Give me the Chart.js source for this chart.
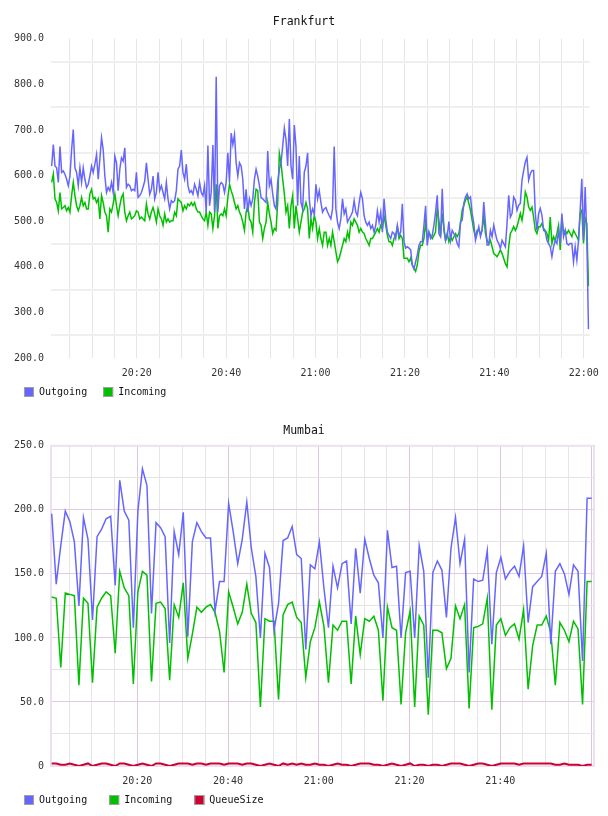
<!DOCTYPE html>
<html>
<head>
<meta charset="utf-8">
<script src="https://cdn.jsdelivr.net/npm/chart.js@4.4.1/dist/chart.umd.min.js"></script>
<style>
  html, body { margin: 0; padding: 0; background: #fff; }
  .box { position: absolute; left: 0; width: 608px; height: 408px; }
</style>
</head>
<body>
<div class="box" style="top:0"><canvas id="frankfurt"></canvas></div>
<div class="box" style="top:408px"><canvas id="mumbai"></canvas></div>
<script>
// x values are minutes after 20:00
var frankFirstMinute = 0.96;
var frankLastMinute = 121.05;

var frankOutgoing = [
  621, 668, 621, 617, 585, 664, 607, 610, 603, 592, 578, 599, 657, 701, 617, 607, 578, 617, 585, 617,
  592, 574, 581, 599, 621, 607, 625, 646, 592, 636, 683, 657, 599, 563, 574, 567, 585, 563, 643, 628,
  567, 614, 639, 632, 661, 574, 581, 578, 567, 570, 567, 607, 552, 556, 563, 575, 588, 628, 592, 559,
  570, 599, 549, 563, 607, 567, 578, 563, 549, 585, 549, 527, 545, 541, 545, 567, 614, 621, 656, 607,
  592, 625, 578, 563, 567, 559, 581, 570, 556, 585, 563, 556, 578, 520, 666, 534, 563, 667, 520, 817,
  520, 578, 585, 581, 563, 585, 650, 585, 693, 668, 690, 628, 599, 628, 621, 592, 527,
  570, 520, 549, 534, 549, 592, 614, 599, 578, 552, 549, 545, 541, 654, 578, 592, 560, 534, 527, 585,
  614, 628, 664, 704, 679, 621, 724, 621, 592, 711, 664, 534, 643, 541, 527, 607, 621, 650, 549, 512,
  527, 516, 581, 549, 567, 541, 520, 527, 530, 520, 512, 505, 527, 664, 527, 498, 484, 505, 549, 516,
  527, 498, 505, 512, 520, 545, 520, 512, 541, 563, 549, 512, 498, 491, 498, 484, 491, 476, 491, 523,
  498, 520, 476, 549, 505, 476, 469, 462, 476, 473, 462, 491, 469, 476, 538, 455, 441, 444, 441, 437,
  404, 395, 411, 426, 447, 455, 455, 491, 534, 447, 476, 462, 469, 491, 520,
  557, 473, 466, 571, 480, 458, 466, 499, 458, 480, 473, 466, 451, 444, 499, 502, 539, 553, 560, 549,
  553, 517, 495, 458, 473, 488, 466, 480, 542, 495, 448, 448, 480, 466, 491, 473, 458, 451, 440, 458,
  451, 444, 495, 557, 509, 517, 553, 546, 524, 535, 539, 590, 611, 630, 640, 590, 604, 611, 611, 517,
  480, 517, 528, 513, 480, 477, 458, 451, 444, 422, 444, 458, 451, 480, 451, 517, 466, 480, 451, 448,
  451, 451, 411, 444, 415, 458, 524, 593, 458, 575, 466, 263
];

var frankIncoming = [
  585, 603, 549, 541, 523, 563, 527, 530, 534, 523, 530, 520, 556, 585, 556, 534, 523, 534, 552, 534,
  541, 527, 527, 560, 570, 549, 552, 541, 549, 505, 556, 541, 520, 512, 476, 527, 520, 538, 560, 534,
  512, 534, 552, 560, 520, 501, 512, 520, 505, 508, 512, 523, 520, 505, 509, 505, 501, 538, 516, 505,
  520, 530, 516, 498, 527, 512, 505, 491, 516, 498, 505, 498, 501, 501, 520, 512, 549, 545, 541, 523,
  534, 527, 538, 534, 541, 534, 541, 527, 520, 520, 512, 505, 501, 520, 491, 520, 516, 484, 512, 581,
  484, 512, 516, 512, 527, 512, 552, 581, 567, 556, 541, 527, 534, 520, 512, 498, 480,
  520, 534, 505, 498, 476, 541, 570, 567, 498, 491, 462, 484, 498, 541, 516, 498, 473, 484, 480, 541,
  649, 628, 592, 560, 520, 534, 484, 534, 556, 484, 534, 505, 476, 498, 520, 527, 541, 527, 462, 505,
  484, 512, 498, 462, 484, 462, 447, 476, 476, 447, 462, 447, 476, 455, 433, 411, 419, 433, 447, 462,
  455, 476, 462, 498, 491, 505, 498, 491, 476, 484, 476, 473, 462, 455, 447, 462, 462, 469, 476, 484,
  476, 491, 484, 512, 491, 469, 455, 455, 447, 462, 469, 487, 462, 469, 462, 419, 419, 419, 411, 419,
  404, 397, 390, 404, 433, 447, 447, 462, 498, 462, 476, 469, 462, 469, 476,
  531, 502, 466, 517, 488, 458, 473, 455, 466, 458, 466, 473, 466, 473, 495, 524, 535, 546, 553, 539,
  524, 502, 480, 466, 480, 480, 473, 480, 513, 473, 458, 451, 458, 444, 429, 426, 422, 429, 437, 429,
  418, 407, 400, 444, 473, 480, 488, 480, 488, 502, 517, 502, 524, 564, 553, 531, 524, 531, 509, 480,
  473, 488, 488, 495, 484, 480, 473, 458, 509, 451, 466, 458, 473, 491, 437, 509, 473, 480, 473, 480,
  473, 466, 480, 473, 466, 458, 517, 524, 451, 506, 495, 358
];

var mumbaiFirstMinute = 1.13;
var mumbaiStepMinutes = 1;

var mumbaiOutgoing = [
  197, 142, 172, 199, 191, 175, 125, 194, 177, 114,
  179, 185, 193, 195, 141, 223, 199, 192, 108, 199,
  232, 219, 119, 190, 186, 179, 96, 183, 165, 198,
  101, 175, 190, 183, 178, 178, 121, 144, 144, 205,
  183, 158, 177, 206, 170, 148, 100, 166, 155, 106,
  127, 176, 178, 187, 165, 162, 91, 157, 154, 175,
  139, 108, 156, 139, 158, 160, 111, 170, 135, 177,
  162, 149, 143, 100, 184, 155, 156, 100, 151, 152,
  100, 172, 152, 69, 151, 160, 153, 116, 170, 194,
  158, 177, 73, 146, 144, 145, 168, 95, 151, 163,
  146, 152, 156, 148, 172, 112, 140, 144, 148, 166,
  95, 152, 158, 150, 134, 157, 152, 82, 209, 209
];

var mumbaiIncoming = [
  132, 131, 77, 135, 134, 133, 63, 131, 127, 65,
  124, 131, 136, 133, 88, 152, 139, 133, 64, 136,
  152, 149, 66, 127, 128, 123, 67, 126, 116, 143,
  84, 103, 124, 120, 124, 126, 120, 105, 73, 136,
  124, 111, 120, 142, 119, 112, 46, 115, 113, 113,
  52, 118, 126, 128, 116, 112, 69, 97, 108, 128,
  109, 65, 110, 106, 113, 113, 64, 117, 87, 115,
  113, 117, 106, 51, 124, 108, 106, 48, 104, 121,
  46, 117, 110, 40, 106, 106, 104, 76, 84, 125,
  115, 126, 45, 108, 109, 111, 131, 44, 110, 115,
  102, 108, 111, 99, 122, 60, 94, 110, 110, 117,
  104, 63, 112, 106, 97, 113, 107, 48, 144, 144
];

var mumbaiQueue = [
  2, 2, 1, 1, 2, 1, 0, 1, 2, 0,
  1, 2, 2, 1, 0, 2, 2, 1, 0, 1,
  2, 1, 0, 2, 2, 1, 0, 1, 2, 2,
  2, 1, 2, 2, 1, 2, 2, 2, 1, 2,
  2, 2, 1, 2, 2, 1, 0, 1, 2, 1,
  0, 2, 1, 2, 1, 2, 1, 1, 2, 1,
  1, 0, 1, 2, 1, 1, 0, 1, 2, 2,
  2, 1, 1, 0, 1, 2, 1, 0, 1, 2,
  0, 1, 1, 0, 1, 1, 0, 1, 2, 2,
  2, 1, 0, 1, 2, 2, 1, 0, 1, 2,
  2, 2, 2, 1, 2, 2, 2, 2, 2, 2,
  2, 1, 1, 2, 1, 1, 1, 0, 1, 1
];

var BLUE = "#6666ff";
var GREEN = "#00c000";
var RED = "#cc0033";
var MONO = "'DejaVu Sans Mono', monospace";

function clock(m) {
  var h = 20 + Math.floor(m / 60);
  var mm = Math.round(m % 60);
  return h + ":" + (mm < 10 ? "0" + mm : mm);
}

function evenly(values, first, last) {
  var step = (last - first) / (values.length - 1);
  return values.map(function (v, i) { return { x: first + i * step, y: v }; });
}

function stepped(values, first, step) {
  return values.map(function (v, i) { return { x: first + i * step, y: v }; });
}

function line(label, color, points, width) {
  return {
    label: label,
    data: points,
    borderColor: color,
    backgroundColor: color,
    borderWidth: width || 1.5,
    pointRadius: 0,
    tension: 0,
    fill: false,
  };
}

// box round the plot area (Mumbai only)
var framePlugin = {
  id: "frame",
  beforeDatasetsDraw: function (chart, args, opts) {
    if (!opts.color) return;
    var a = chart.chartArea;
    var ctx = chart.ctx;
    ctx.save();
    ctx.strokeStyle = opts.color;
    ctx.lineWidth = opts.width || 1;
    ctx.strokeRect(a.left, a.top, a.right - a.left, a.bottom - a.top);
    ctx.restore();
  },
};

// flot style legend row under the x axis
var rowLegend = {
  id: "rowLegend",
  afterDraw: function (chart, args, opts) {
    var ctx = chart.ctx;
    var x = opts.x;
    ctx.save();
    ctx.font = "10px " + MONO;
    ctx.textBaseline = "middle";
    chart.data.datasets.forEach(function (ds) {
      ctx.fillStyle = ds.borderColor;
      ctx.fillRect(x, opts.y - 5, 10, 10);
      ctx.strokeStyle = "#a0a0a0";
      ctx.lineWidth = 1;
      ctx.strokeRect(x + 0.5, opts.y - 4.5, 9, 9);
      ctx.fillStyle = "#111";
      ctx.fillText(ds.label, x + 15, opts.y);
      x += 15 + ctx.measureText(ds.label).width + opts.gap;
    });
    ctx.restore();
  },
};

function options(cfg) {
  return {
    responsive: true,
    maintainAspectRatio: false,
    animation: false,
    layout: { padding: { left: 0, right: 0, top: 0, bottom: 25 } },
    plugins: {
      title: {
        display: true,
        text: cfg.title,
        color: "#111",
        font: { family: MONO, size: 11.5, weight: "normal" },
        padding: { top: cfg.titleTop, bottom: cfg.titleBottom },
      },
      legend: { display: false },
      tooltip: { enabled: false },
      frame: { color: cfg.frame, width: 2 },
      rowLegend: { x: 24, y: 392, gap: cfg.legendGap },
    },
    scales: {
      x: {
        type: "linear",
        min: cfg.xMin,
        max: cfg.xMax,
        afterFit: function (s) { s.height = 25; },
        border: { display: false },
        grid: { drawTicks: false, color: cfg.xGrid, lineWidth: 1 },
        ticks: {
          stepSize: 5,
          includeBounds: false,
          autoSkip: false,
          maxRotation: 0,
          padding: 9,
          color: "#333",
          font: { family: MONO, size: 10 },
          callback: function (v) {
            return v % 20 === 0 && v <= cfg.lastLabel ? clock(v) : "";
          },
        },
      },
      y: {
        min: cfg.yMin,
        max: cfg.yMax,
        afterFit: function (s) { s.width = 51; },
        border: { display: false },
        grid: { drawTicks: false, color: cfg.yGrid, lineWidth: cfg.yGridWidth },
        ticks: {
          stepSize: cfg.yStep,
          autoSkip: false,
          padding: 7,
          color: "#333",
          font: { family: MONO, size: 10 },
          callback: cfg.yLabel,
        },
      },
      // empty right-hand margin so the title stays centred on the whole canvas
      gutter: {
        position: "right",
        grid: { display: false },
        border: { display: false },
        ticks: { display: false },
        afterFit: function (s) { s.width = cfg.padRight; },
      },
    },
  };
}

new Chart(document.getElementById("frankfurt"), {
  type: "line",
  data: {
    datasets: [
      line("Outgoing", BLUE, evenly(frankOutgoing, frankFirstMinute, frankLastMinute)),
      line("Incoming", GREEN, evenly(frankIncoming, frankFirstMinute, frankLastMinute)),
    ],
  },
  plugins: [framePlugin, rowLegend],
  options: options({
    title: "Frankfurt",
    padRight: 15,
    titleTop: 15, titleBottom: 10,
    legendGap: 16,
    xMin: 0.81, xMax: 121.33, lastLabel: 120,
    xGrid: "#e6e6e6",
    yMin: 200, yMax: 900, yStep: 50, yGridWidth: 2,
    yGrid: function (c) { return c.tick.value % 100 === 0 ? "rgba(0,0,0,0)" : "#efefef"; },
    yLabel: function (v) { return v % 100 === 0 ? v.toFixed(1) : ""; },
    frame: null,
  }),
});

new Chart(document.getElementById("mumbai"), {
  type: "line",
  data: {
    datasets: [
      line("Outgoing", BLUE, stepped(mumbaiOutgoing, mumbaiFirstMinute, mumbaiStepMinutes)),
      line("Incoming", GREEN, stepped(mumbaiIncoming, mumbaiFirstMinute, mumbaiStepMinutes)),
      line("QueueSize", RED, stepped(mumbaiQueue, mumbaiFirstMinute, mumbaiStepMinutes), 2),
    ],
  },
  plugins: [framePlugin, rowLegend],
  options: options({
    title: "Mumbai",
    padRight: 14,
    titleTop: 16, titleBottom: 8,
    legendGap: 22,
    xMin: 0.98, xMax: 120.65, lastLabel: 100,
    xGrid: function (c) { return c.tick.value % 20 === 0 ? "#dcc6dc" : "#e6e6e6"; },
    yMin: 0, yMax: 250, yStep: 25, yGridWidth: 1,
    yGrid: function (c) { return c.tick.value % 50 === 0 ? "#e6c8e6" : "#e4e4e4"; },
    yLabel: function (v) { return v === 0 ? "0" : v % 50 === 0 ? v.toFixed(1) : ""; },
    frame: "#ecdff0",
  }),
});
</script>
</body>
</html>
